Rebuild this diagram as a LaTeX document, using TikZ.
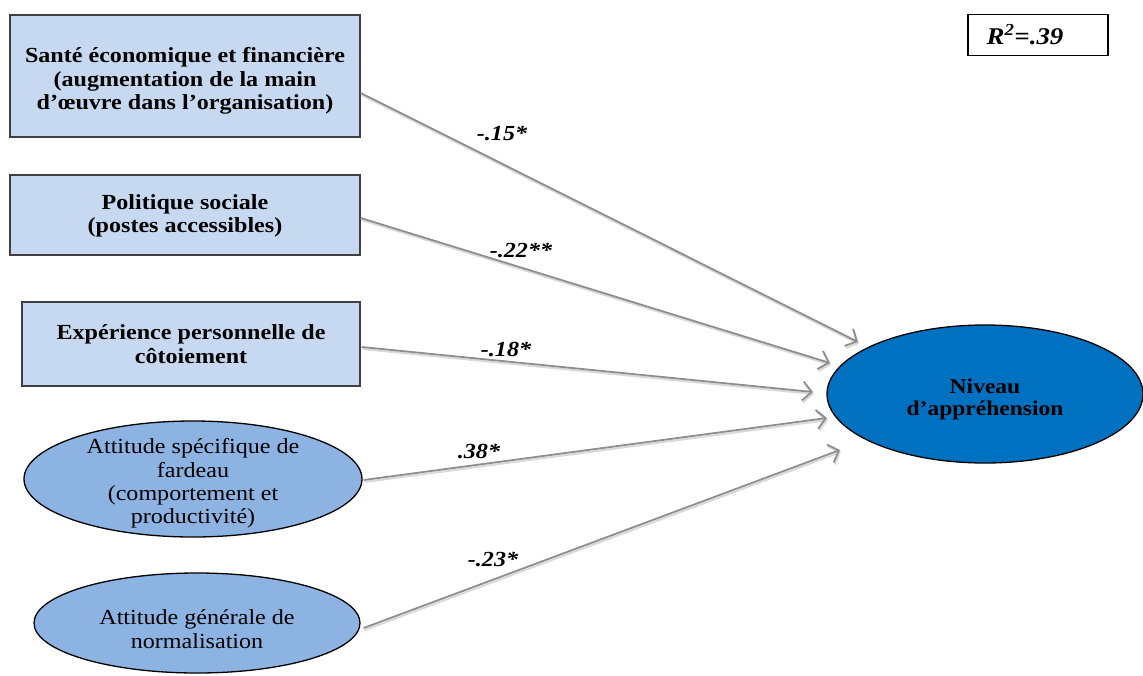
\documentclass[tikz,border=0pt]{standalone}
\usepackage{fontspec}
\setmainfont[FakeStretch=1.12]{Liberation Serif}
\usetikzlibrary{shapes.geometric,arrows.meta,calc}
\definecolor{boxfill}{HTML}{C6D9F1}
\definecolor{ovalfill}{HTML}{8DB3E2}
\definecolor{mainfill}{HTML}{0070C0}
\definecolor{arrowgray}{HTML}{8E8E8E}
\definecolor{shadowgray}{HTML}{D9D9D9}
% extra room above the first line, lowering the text block inside its shape
\newcommand{\toppad}[1]{\rule{0pt}{#1pt}}
\tikzset{
  x=1pt, y=-1pt,
  predbox/.style={draw=black!75, line width=1.4pt, fill=boxfill, rectangle,
    align=center, inner sep=0pt, font=\fontsize{21.5}{23.5}\selectfont\bfseries},
  predoval/.style={draw=black, line width=1.3pt, fill=ovalfill, ellipse,
    align=center, inner xsep=-30pt, inner ysep=-30pt,
    font=\fontsize{21.5}{23.3}\selectfont},
  outcome/.style={draw=black, line width=1.3pt, fill=mainfill, ellipse,
    align=center, inner xsep=-30pt, inner ysep=-30pt,
    font=\fontsize{21}{22}\selectfont\bfseries},
  coef/.style={font=\fontsize{21.5}{23}\selectfont\bfseries\itshape, inner sep=0pt},
  link/.style={draw=arrowgray, line width=1.8pt,
    -{Straight Barb[length=9pt,width=19pt,line width=1.8pt]}},
  linkshadow/.style={draw=shadowgray, line width=2pt,
    -{Straight Barb[length=9pt,width=19pt,line width=2pt]}},
}
\begin{document}
\begin{tikzpicture}
\useasboundingbox (0,0) rectangle (1143,675);

% predictors
\node[predbox, minimum width=350, minimum height=122] (b1) at (185,76)
  {\toppad{25}Santé économique et financière\\(augmentation de la main\\d’œuvre dans l’organisation)};
\node[predbox, minimum width=350, minimum height=80] (b2) at (185,215)
  {\toppad{17}Politique sociale\\(postes accessibles)};
\node[predbox, minimum width=338, minimum height=84] (b3) at (191,344)
  {Expérience personnelle de\\côtoiement};
\node[predoval, minimum width=338, minimum height=116] (e1) at (193,479)
  {\toppad{24}Attitude spécifique de\\fardeau\\(comportement et\\productivité)};
\node[predoval, minimum width=326, minimum height=100] (e2) at (197,623)
  {\toppad{27}Attitude générale de\\normalisation};

% outcome
\node[outcome, minimum width=316, minimum height=138] (tgt) at (985,394)
  {\toppad{25}Niveau\\d’appréhension};

% explained variance
\node[draw=black, line width=1.4pt, fill=white, minimum width=140, minimum height=41,
  font=\fontsize{24}{26}\selectfont\bfseries\itshape] (r2) at (1038,35)
  {\hspace*{-26pt}R\textsuperscript{2}=.39};

% paths
\coordinate (s1) at ($(b1.east)+(0,17)$);
\coordinate (s2) at ($(b2.east)+(0,3)$);
\coordinate (s3) at ($(b3.east)+(1,3)$);
\coordinate (s4) at ($(e1.east)+(1,1)$);
\coordinate (s5) at ($(e2.east)+(3,5)$);
\coordinate (t1) at ($(tgt.center)+(-127,-52)$);
\coordinate (t2) at ($(tgt.center)+(-155,-31)$);
\coordinate (t3) at ($(tgt.center)+(-172,-2)$);
\coordinate (t4) at ($(tgt.center)+(-158,24)$);
\coordinate (t5) at ($(tgt.center)+(-145,56)$);

\foreach \i in {1,...,5} {
  \draw[linkshadow] ($(s\i)+(1,2)$) -- ($(t\i)+(1,2)$);
}
\foreach \i in {1,...,5} {
  \draw[link] (s\i) -- (t\i);
}

% coefficients
\node[coef] (c1) at (502,133) {-.15*};
\node[coef] (c2) at (521,250) {-.22**};
\node[coef] (c3) at (506,349) {-.18*};
\node[coef] (c4) at (479,451) {.38*};
\node[coef] (c5) at (493,559) {-.23*};
\end{tikzpicture}
\end{document}
